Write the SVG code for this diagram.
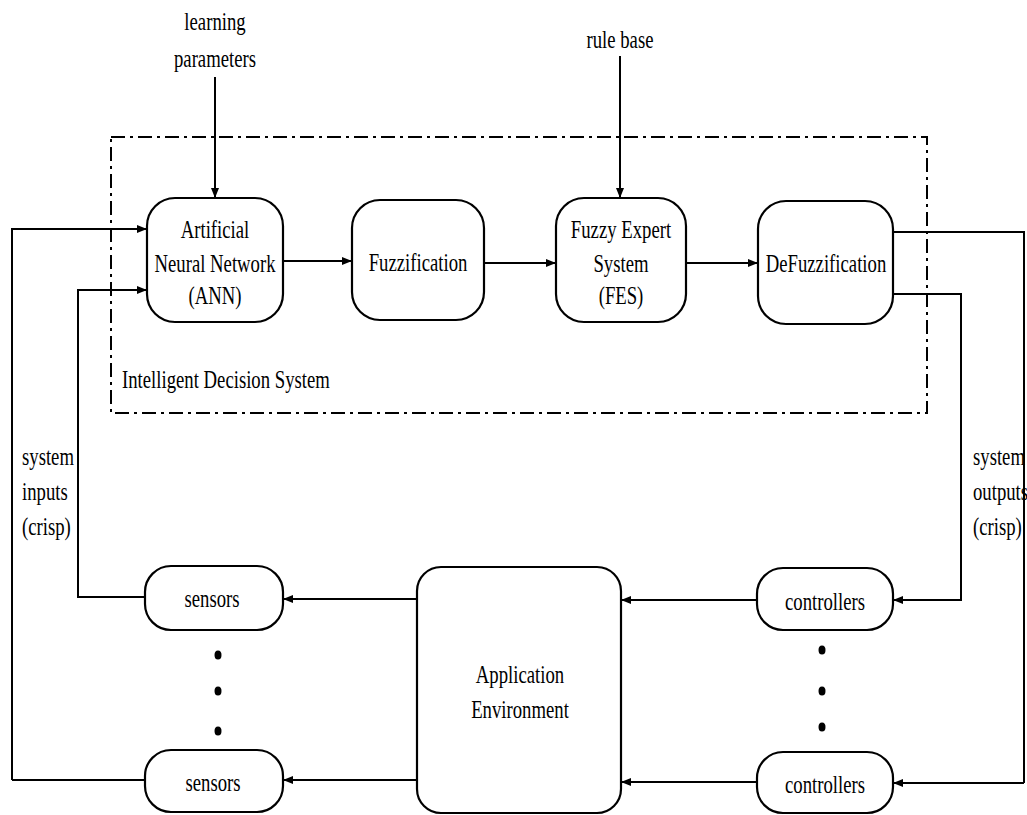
<svg xmlns="http://www.w3.org/2000/svg" width="1027" height="815" viewBox="0 0 1027 815">
<defs>
<marker id="ah" markerWidth="10" markerHeight="8" refX="10" refY="4" orient="auto" markerUnits="userSpaceOnUse">
<path d="M0,0 L10,4 L0,8 Z" fill="#000"/>
</marker>
<style>
.box{fill:#fff;stroke:#000;stroke-width:2.2}
.t{font-family:"Liberation Serif","Times New Roman",serif;font-size:26px;fill:#000}
.c{text-anchor:middle}
.ln{fill:none;stroke:#000;stroke-width:2}
.ar{fill:none;stroke:#000;stroke-width:2;marker-end:url(#ah)}
.ds{fill:none;stroke:#000;stroke-width:2;stroke-dasharray:14 5 3 5}
</style>
</defs>
<rect width="1027" height="815" fill="#fff"/>
<g id="ids-boundary">
<rect class="ds" x="111" y="137" width="816" height="276"/>
<text class="t" transform="translate(122,388) scale(0.72,1)">Intelligent Decision System</text>
</g>
<g id="connectors">
<line class="ar" x1="215" y1="77" x2="215" y2="198"/>
<line class="ar" x1="620" y1="56" x2="620" y2="198"/>
<line class="ar" x1="284" y1="261" x2="352" y2="261"/>
<line class="ar" x1="484" y1="263" x2="556" y2="263"/>
<line class="ar" x1="686" y1="263" x2="758" y2="263"/>
<polyline class="ar" points="12,780 12,229 147,229"/>
<polyline class="ar" points="145,597 78,597 78,290 147,290"/>
<polyline class="ln" points="893,232 1024,232 1024,783"/>
<line class="ar" x1="1024" y1="783" x2="893" y2="783"/>
<polyline class="ar" points="893,294 961,294 961,600 893,600"/>
<line class="ar" x1="757" y1="600" x2="621" y2="600"/>
<line class="ar" x1="757" y1="782" x2="621" y2="782"/>
<line class="ar" x1="417" y1="599" x2="283" y2="599"/>
<line class="ar" x1="417" y1="780" x2="283" y2="780"/>
<line class="ln" x1="145" y1="780" x2="12" y2="780"/>
</g>
<g id="learning-parameters">
<text class="t c" transform="translate(215,30) scale(0.72,1)">learning</text>
<text class="t c" transform="translate(215,67) scale(0.72,1)">parameters</text>
</g>
<g id="rule-base"><text class="t c" transform="translate(620,48) scale(0.72,1)">rule base</text></g>
<g id="ann"><rect class="box" x="147" y="198" width="136" height="124" rx="28"/>
<text class="t c" transform="translate(215,238) scale(0.72,1)">Artificial</text>
<text class="t c" transform="translate(215,272) scale(0.72,1)">Neural Network</text>
<text class="t c" transform="translate(215,304) scale(0.72,1)">(ANN)</text></g>
<g id="fuzzification"><rect class="box" x="352" y="200" width="132" height="120" rx="28"/>
<text class="t c" transform="translate(418,271) scale(0.72,1)">Fuzzification</text></g>
<g id="fes"><rect class="box" x="556" y="198" width="130" height="124" rx="28"/>
<text class="t c" transform="translate(621,238) scale(0.72,1)">Fuzzy Expert</text>
<text class="t c" transform="translate(621,272) scale(0.72,1)">System</text>
<text class="t c" transform="translate(621,304) scale(0.72,1)">(FES)</text></g>
<g id="defuzzification"><rect class="box" x="758" y="201" width="135" height="123" rx="28"/>
<text class="t c" transform="translate(826,272) scale(0.72,1)">DeFuzzification</text></g>
<g id="system-inputs">
<text class="t" transform="translate(22,465) scale(0.72,1)">system</text>
<text class="t" transform="translate(22,500) scale(0.72,1)">inputs</text>
<text class="t" transform="translate(22,535) scale(0.72,1)">(crisp)</text></g>
<g id="system-outputs">
<text class="t" transform="translate(973,465) scale(0.72,1)">system</text>
<text class="t" transform="translate(973,500) scale(0.72,1)">outputs</text>
<text class="t" transform="translate(973,535) scale(0.72,1)">(crisp)</text></g>
<g id="sensors-1"><rect class="box" x="145" y="566" width="138" height="64" rx="26"/>
<text class="t c" transform="translate(212,607) scale(0.72,1)">sensors</text></g>
<g id="sensors-n"><rect class="box" x="145" y="750" width="138" height="62" rx="26"/>
<text class="t c" transform="translate(213,791) scale(0.72,1)">sensors</text></g>
<g id="sensor-dots"><ellipse cx="218" cy="655" rx="3.5" ry="4.5"/><ellipse cx="218" cy="691" rx="3.5" ry="4.5"/><ellipse cx="218" cy="731" rx="3.5" ry="4.5"/></g>
<g id="application-environment"><rect class="box" x="417" y="567" width="204" height="246" rx="24"/>
<text class="t c" transform="translate(520,683) scale(0.72,1)">Application</text>
<text class="t c" transform="translate(520,718) scale(0.72,1)">Environment</text></g>
<g id="controllers-1"><rect class="box" x="757" y="568" width="136" height="62" rx="26"/>
<text class="t c" transform="translate(825,610) scale(0.72,1)">controllers</text></g>
<g id="controllers-n"><rect class="box" x="757" y="752" width="136" height="61" rx="26"/>
<text class="t c" transform="translate(825,793) scale(0.72,1)">controllers</text></g>
<g id="controller-dots"><ellipse cx="822" cy="650" rx="3.5" ry="4.5"/><ellipse cx="822" cy="691" rx="3.5" ry="4.5"/><ellipse cx="822" cy="727" rx="3.5" ry="4.5"/></g>
</svg>
